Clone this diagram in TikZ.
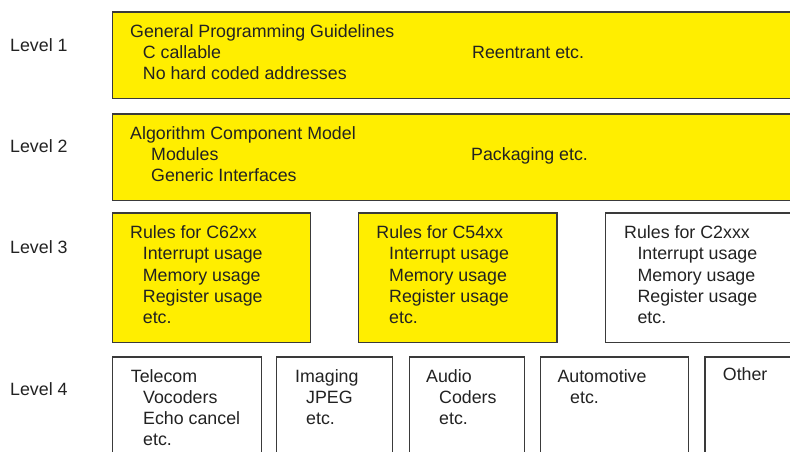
\documentclass[tikz,border=0pt]{standalone}
\usepackage{fontspec}
\setmainfont{Liberation Sans}
\definecolor{yel}{HTML}{FFEE00}
\definecolor{edge}{HTML}{3A3A3A}
\definecolor{ink}{HTML}{222222}
\begin{document}
\begin{tikzpicture}[x=1pt,y=-1pt,
  box/.style={draw=edge,line width=1.3pt,anchor=north west,inner sep=0pt,outer sep=0pt},
  ybox/.style={box,fill=yel},
  wbox/.style={box,fill=white},
  txt/.style={anchor=base west,inner sep=0pt,text=ink,font=\fontsize{17.8}{21}\selectfont}]
\useasboundingbox (0,0) rectangle (790,451);
\clip (0,0) rectangle (790,451);
\fill[white] (0,0) rectangle (790,451);
% Level labels
\node[txt] (lv1) at (10,51.7) {Level 1};
\node[txt] (lv2) at (10,152.3) {Level 2};
\node[txt] (lv3) at (10,253.3) {Level 3};
\node[txt] (lv4) at (10,395) {Level 4};
% Level 1
\node[ybox,minimum width=700pt,minimum height=86.5pt] (b1) at (112.5,12) {};
\node[txt] (t1a) at (130,37) {General Programming Guidelines};
\node[txt] (t1b) at (142.7,58.5) {C callable};
\node[txt] (t1c) at (142.7,79) {No hard coded addresses};
\node[txt] (t1d) at (472,58.5) {Reentrant etc.};
% Level 2
\node[ybox,minimum width=700pt,minimum height=86.5pt] (b2) at (112.5,114) {};
\node[txt] (t2a) at (130,139) {Algorithm Component Model};
\node[txt] (t2b) at (151,160.5) {Modules};
\node[txt] (t2c) at (151,181) {Generic Interfaces};
\node[txt] (t2d) at (471,160.5) {Packaging etc.};
% Level 3
\node[ybox,minimum width=198.2pt,minimum height=129.5pt] (b3a) at (112.5,213) {};
\node[ybox,minimum width=198.3pt,minimum height=129.5pt] (b3b) at (358.7,213) {};
\node[wbox,minimum width=200pt,minimum height=129.5pt] (b3c) at (605.3,213) {};
\node[txt] (t3a1) at (130,238) {Rules for C62xx};
\node[txt] (t3a2) at (142.7,259.5) {Interrupt usage};
\node[txt] (t3a3) at (142.7,281) {Memory usage};
\node[txt] (t3a4) at (142.7,302) {Register usage};
\node[txt] (t3a5) at (142.7,323) {etc.};
\node[txt] (t3b1) at (376.2,238) {Rules for C54xx};
\node[txt] (t3b2) at (389,259.5) {Interrupt usage};
\node[txt] (t3b3) at (389,281) {Memory usage};
\node[txt] (t3b4) at (389,302) {Register usage};
\node[txt] (t3b5) at (389,323) {etc.};
\node[txt] (t3c1) at (624,238) {Rules for C2xxx};
\node[txt] (t3c2) at (637.3,259.5) {Interrupt usage};
\node[txt] (t3c3) at (637.3,281) {Memory usage};
\node[txt] (t3c4) at (637.3,302) {Register usage};
\node[txt] (t3c5) at (637.3,323) {etc.};
% Level 4
\node[wbox,minimum width=148.8pt,minimum height=120pt] (b4a) at (112.5,357) {};
\node[wbox,minimum width=116pt,minimum height=120pt] (b4b) at (276.7,357) {};
\node[wbox,minimum width=115.4pt,minimum height=120pt] (b4c) at (409.3,357) {};
\node[wbox,minimum width=148pt,minimum height=120pt] (b4d) at (540.7,357) {};
\node[wbox,minimum width=120pt,minimum height=120pt] (b4e) at (705,357) {};
\node[txt] (t4a1) at (130.7,382) {Telecom};
\node[txt] (t4a2) at (143,403) {Vocoders};
\node[txt] (t4a3) at (143,424.5) {Echo cancel};
\node[txt] (t4a4) at (143,445) {etc.};
\node[txt] (t4b1) at (295,382) {Imaging};
\node[txt] (t4b2) at (306,403) {JPEG};
\node[txt] (t4b3) at (306,424.5) {etc.};
\node[txt] (t4c1) at (426,382) {Audio};
\node[txt] (t4c2) at (439,403) {Coders};
\node[txt] (t4c3) at (439,424.5) {etc.};
\node[txt] (t4d1) at (557.3,382) {Automotive};
\node[txt] (t4d2) at (570,403) {etc.};
\node[txt] (t4e1) at (722.7,380.5) {Other};
\end{tikzpicture}
\end{document}
